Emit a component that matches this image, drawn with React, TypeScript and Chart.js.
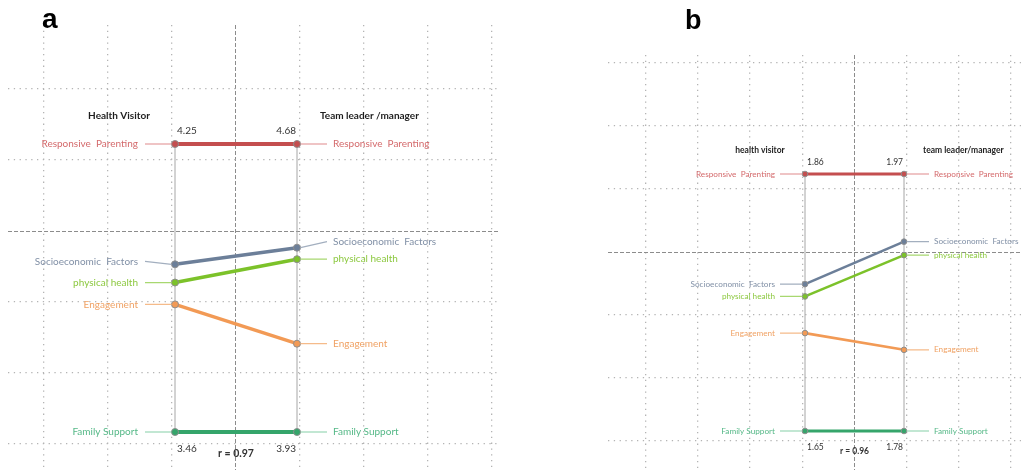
import React, { useEffect, useRef } from "react";
import { Chart, registerables } from "chart.js";
Chart.register(...registerables);

// ---- data ----
const categories = ["Responsive  Parenting", "Socioeconomic  Factors", "physical health", "Engagement", "Family Support"];
const groupsA = ["Health Visitor", "Team leader /manager"];
const groupsB = ["health visitor", "team leader/manager"];
const healthVisitorA = [4.25, 3.92, 3.87, 3.81, 3.46];
const teamLeaderA = [4.68, 4.41, 4.38, 4.16, 3.93];
const healthVisitorB = [1.86, 1.77, 1.76, 1.73, 1.65];
const teamLeaderB = [1.97, 1.92, 1.91, 1.84, 1.78];
const correlationA = "r = 0.97";
const correlationB = "r = 0.96";

// ---- styles ----
const lineColors = ["#c44e4f", "#6c7f99", "#7cc22a", "#f29a55", "#35a56b"];
const textColors = ["#d46a6c", "#8190a6", "#8cc83f", "#f0a264", "#55b887"];
const connColors = ["#e08a8c", "#a3afbf", "#a8d870", "#f5bb8a", "#86cfa8"];

type Cfg = {
  left: number; width: number; height: number;
  padding: { left: number; right: number; top: number; bottom: number };
  xMin: number; xMax: number; xStep: number; xK: [number, number];
  yMin: number; yMax: number; yCenter: number; yStep: number; yK: [number, number];
  hv: number[]; tl: number[]; groups: string[]; r: string;
  font: number; hFont: number; vFont: number; rFont: number;
  lw: number[]; pr: number;
  connL: number; textL: number; connR: number; textR: number;
  offL: number[]; offR: number[];
  headL: number; headR: number; headY: number; valY: number; botY: number; rY: number;
};

const cfgA: Cfg = {
  left: 0, width: 540, height: 470,
  padding: { left: 8, right: 40, top: 25, bottom: 0 },
  xMin: (8 - 175) / 122, xMax: (500 - 175) / 122, xStep: 64 / 122, xK: [-3, 4],
  yMin: (432 - 470) / 288, yMax: (432 - 25) / 288, yCenter: (432 - 231) / 288, yStep: 71 / 288, yK: [-3, 2],
  hv: healthVisitorA, tl: teamLeaderA, groups: groupsA, r: correlationA,
  font: 10, hFont: 10, vFont: 10, rFont: 10.5,
  lw: [4, 3.5, 3.5, 3.5, 4], pr: 3.5,
  connL: 30, textL: 37, connR: 30, textR: 36,
  offL: [0, -3, 0, 0, 0], offR: [0, -6, 0, 0, 0],
  headL: 56, headR: 23, headY: 28, valY: 13, botY: 17, rY: 22,
};

const cfgB: Cfg = {
  left: 600, width: 421, height: 470,
  padding: { left: 8, right: 0, top: 55, bottom: 0 },
  xMin: (608 - 805) / 99, xMax: (1021 - 805) / 99, xStep: 52.2 / 99, xK: [-4, 3],
  yMin: (431 - 470) / 257, yMax: (431 - 55) / 257, yCenter: (431 - 252) / 257, yStep: 63 / 257, yK: [-3, 3],
  hv: healthVisitorB, tl: teamLeaderB, groups: groupsB, r: correlationB,
  font: 8.2, hFont: 8.5, vFont: 8.5, rFont: 8.5,
  lw: [3, 2.6, 2.6, 2.6, 3], pr: 2.8,
  connL: 25, textL: 30, connR: 25, textR: 30,
  offL: [0, 0, 0, 0, 0], offR: [0, 0, 0, 0, 0],
  headL: 45, headR: 19, headY: 24, valY: 12, botY: 16, rY: 20,
};

function Panel({ cfg }: { cfg: Cfg }) {
  const ref = useRef<HTMLCanvasElement>(null);
  useEffect(() => {
    if (!ref.current) return;
    const minL = Math.min(...cfg.hv), maxL = Math.max(...cfg.hv);
    const minR = Math.min(...cfg.tl), maxR = Math.max(...cfg.tl);
    const nL = cfg.hv.map((v) => (v - minL) / (maxL - minL));
    const nR = cfg.tl.map((v) => (v - minR) / (maxR - minR));

    const axisSets: any[] = [0, 1].map((x) => ({
      label: "axis" + x,
      data: [{ x, y: 0 }, { x, y: 1 }],
      borderColor: "#a6a6a6",
      borderWidth: 1,
      pointRadius: 0,
      order: 10,
    }));
    const seriesSets: any[] = categories.map((c, i) => ({
      label: c,
      data: [{ x: 0, y: nL[i] }, { x: 1, y: nR[i] }],
      borderColor: lineColors[i],
      borderWidth: cfg.lw[i],
      pointRadius: cfg.pr,
      pointBackgroundColor: lineColors[i],
      pointBorderColor: "#8e8e8e",
      pointBorderWidth: 1,
      order: 1,
    }));

    const xTicks: number[] = [];
    for (let k = cfg.xK[0]; k <= cfg.xK[1]; k++) xTicks.push(0.5 + k * cfg.xStep);
    const yTicks: number[] = [];
    for (let k = cfg.yK[0]; k <= cfg.yK[1]; k++) yTicks.push(cfg.yCenter + k * cfg.yStep);
    const xCenterIdx = -cfg.xK[0];
    const yCenterIdx = -cfg.yK[0];

    const labelPlugin = {
      id: "slopeLabels",
      afterDatasetsDraw(chart: any) {
        const ctx = chart.ctx as CanvasRenderingContext2D;
        const xs = chart.scales.x, ys = chart.scales.y;
        const xL = xs.getPixelForValue(0), xR = xs.getPixelForValue(1);
        ctx.save();
        ctx.textBaseline = "middle";
        categories.forEach((c, i) => {
          const yl = ys.getPixelForValue(nL[i]);
          const yr = ys.getPixelForValue(nR[i]);
          ctx.strokeStyle = connColors[i];
          ctx.lineWidth = 1.2;
          ctx.beginPath();
          ctx.moveTo(xL - cfg.connL, yl + cfg.offL[i]);
          ctx.lineTo(xL - cfg.pr, yl);
          ctx.moveTo(xR + cfg.pr, yr);
          ctx.lineTo(xR + cfg.connR, yr + cfg.offR[i]);
          ctx.stroke();
          ctx.fillStyle = textColors[i];
          ctx.font = `${cfg.font}px Lato`;
          ctx.textAlign = "right";
          ctx.fillText(c, xL - cfg.textL, yl + cfg.offL[i]);
          ctx.textAlign = "left";
          ctx.fillText(c, xR + cfg.textR, yr + cfg.offR[i]);
        });
        const yTop = ys.getPixelForValue(nL[0]);
        const yBot = ys.getPixelForValue(nL[nL.length - 1]);
        // headers
        ctx.fillStyle = "#1e1e1e";
        ctx.font = `bold ${cfg.hFont}px Lato`;
        ctx.textAlign = "center";
        ctx.fillText(cfg.groups[0], xL - cfg.headL, yTop - cfg.headY);
        ctx.textAlign = "left";
        ctx.fillText(cfg.groups[1], xR + cfg.headR, yTop - cfg.headY);
        // values
        ctx.fillStyle = "#333333";
        ctx.font = `${cfg.vFont}px Lato`;
        ctx.textAlign = "left";
        ctx.fillText(maxL.toFixed(2), xL + 2, yTop - cfg.valY);
        ctx.fillText(minL.toFixed(2), xL + 2, yBot + cfg.botY);
        ctx.textAlign = "right";
        ctx.fillText(maxR.toFixed(2), xR - 1, yTop - cfg.valY);
        ctx.fillText(minR.toFixed(2), xR - 1, yBot + cfg.botY);
        ctx.font = `bold ${cfg.rFont}px Lato`;
        ctx.textAlign = "center";
        ctx.fillText(cfg.r, (xL + xR) / 2, yBot + cfg.rY);
        ctx.restore();
      },
    };

    const chart = new Chart(ref.current, {
      type: "line",
      data: { datasets: [...axisSets, ...seriesSets] },
      options: {
        animation: false,
        responsive: false,
        layout: { padding: cfg.padding, autoPadding: false },
        plugins: { legend: { display: false }, tooltip: { enabled: false } },
        scales: {
          x: {
            type: "linear",
            min: cfg.xMin,
            max: cfg.xMax,
            afterBuildTicks: (s: any) => { s.ticks = xTicks.map((v) => ({ value: v })); },
            afterFit: (s: any) => { s.height = 0; },
            ticks: { display: false },
            grid: {
              drawTicks: false,
              color: (c: any) => (c.index === xCenterIdx ? "#8c8c8c" : "#b4b4b4"),
              lineWidth: (c: any) => (c.index === xCenterIdx ? 1 : 1.3),
            },
            border: { display: false, dash: (c: any) => (c.index === xCenterIdx ? [4, 2] : [1.3, 4.5]) },
          },
          y: {
            type: "linear",
            min: cfg.yMin,
            max: cfg.yMax,
            afterBuildTicks: (s: any) => { s.ticks = yTicks.map((v) => ({ value: v })); },
            afterFit: (s: any) => { s.width = 0; },
            ticks: { display: false },
            grid: {
              drawTicks: false,
              color: (c: any) => (c.index === yCenterIdx ? "#8c8c8c" : "#b4b4b4"),
              lineWidth: (c: any) => (c.index === yCenterIdx ? 1 : 1.3),
            },
            border: { display: false, dash: (c: any) => (c.index === yCenterIdx ? [4, 2] : [1.3, 4.5]) },
          },
        },
      } as any,
      plugins: [labelPlugin],
    });
    return () => chart.destroy();
  }, [cfg]);

  return (
    <canvas
      ref={ref}
      width={cfg.width}
      height={cfg.height}
      style={{ position: "absolute", left: cfg.left, top: 0, width: cfg.width, height: cfg.height }}
    />
  );
}

export default function App() {
  return (
    <div style={{ position: "fixed", left: 0, top: 0, width: 1021, height: 470, background: "#fff", overflow: "hidden" }}>
      <Panel cfg={cfgA} />
      <Panel cfg={cfgB} />
      <div style={{ position: "absolute", left: 42, top: 3, font: "bold 28px 'Liberation Sans', Arial, sans-serif", color: "#000" }}>a</div>
      <div style={{ position: "absolute", left: 685, top: 5, font: "bold 27px 'Liberation Sans', Arial, sans-serif", color: "#000" }}>b</div>
    </div>
  );
}
